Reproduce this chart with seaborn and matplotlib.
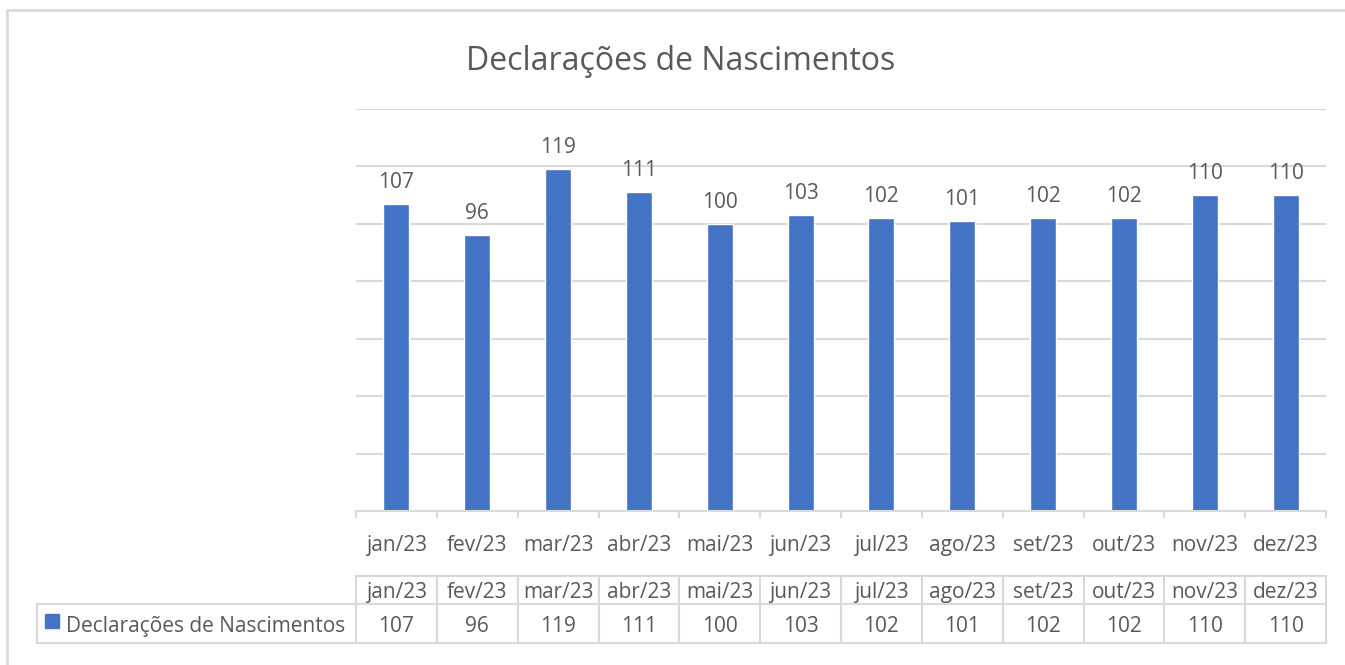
import numpy as np
import pandas as pd
import seaborn as sns
import matplotlib.pyplot as plt
from matplotlib.table import Table
from matplotlib.lines import Line2D
from matplotlib.patches import Rectangle

# Dados do gráfico
meses = ['jan/23', 'fev/23', 'mar/23', 'abr/23', 'mai/23', 'jun/23',
         'jul/23', 'ago/23', 'set/23', 'out/23', 'nov/23', 'dez/23']
declaracoes = [107, 96, 119, 111, 100, 103, 102, 101, 102, 102, 110, 110]
serie = 'Declarações de Nascimentos'

azul = '#4472C4'
cinza_texto = '#595959'
cinza_linha = '#D9D9D9'

sns.set_theme(style='white')
plt.rcParams['font.family'] = ['Open Sans', 'DejaVu Sans']

dados = pd.DataFrame({'mes': meses, 'valor': declaracoes})

W, H = 1345, 665
fig = plt.figure(figsize=(W / 100, H / 100), dpi=100)
ax = fig.add_axes([356 / W, (H - 511) / H, 970 / W, 402 / H])

sns.barplot(data=dados, x='mes', y='valor', color=azul, width=0.32,
            saturation=1, ax=ax)

# Eixo y sem rótulos, só as linhas de grade
ax.set_ylim(0, 140)
ax.set_yticks(range(0, 141, 20))
ax.set_yticklabels([])
ax.tick_params(axis='y', length=0)
ax.yaxis.grid(True, color=cinza_linha, linewidth=1.5)
ax.set_axisbelow(True)
for lado in ['left', 'right', 'top']:
    ax.spines[lado].set_visible(False)
ax.spines['bottom'].set_color(cinza_linha)
ax.spines['bottom'].set_linewidth(1.5)

ax.set_xlim(-0.5, len(meses) - 0.5)
ax.set_xlabel('')
ax.set_ylabel('')
ax.tick_params(axis='x', length=0, pad=17, labelsize=15, labelcolor=cinza_texto)
# marcas entre as categorias
ax.vlines(np.arange(-0.5, len(meses)), 0, -7 / 402, transform=ax.get_xaxis_transform(),
          color=cinza_linha, linewidth=1.5, clip_on=False)

# Rótulos de dados
ax.bar_label(ax.containers[0], padding=8, fontsize=15, color=cinza_texto)

# Tabela de dados abaixo do gráfico
tabela = Table(ax, bbox=[(37 - 356) / 970, (511 - 643) / 402,
                         (1326 - 37) / 970, (643 - 576) / 402])
larg_col = 970 / len(meses)
for j, mes in enumerate(meses):
    tabela.add_cell(0, j + 1, larg_col, 28, text=mes, loc='center')
for j, v in enumerate(declaracoes):
    tabela.add_cell(1, j + 1, larg_col, 39, text=str(v), loc='center')
tabela.add_cell(1, 0, 319, 39, text='', loc='left')
tabela.auto_set_font_size(False)
tabela.set_fontsize(15)
for cel in tabela.get_celld().values():
    cel.set_edgecolor(cinza_linha)
    cel.set_linewidth(1.5)
    cel.get_text().set_color(cinza_texto)
    cel.get_text().set_va('center_baseline')
ax.add_table(tabela)

# Legenda dentro da tabela
ax.text((66 - 356) / 970, (511 - 624) / 402, serie, transform=ax.transAxes,
        ha='left', va='center_baseline', fontsize=15, color=cinza_texto)
fig.add_artist(Rectangle((45 / W, (H - 628) / H), 14 / W, 14 / H,
                         transform=fig.transFigure, color=azul))

# Título
fig.text(681 / W, (H - 58) / H, serie, ha='center', va='center_baseline',
         fontsize=23, color=cinza_texto)

# Borda da área do gráfico
fig.add_artist(Line2D([7 / W, 7 / W], [0, (H - 10) / H], color=cinza_linha, linewidth=2))
fig.add_artist(Line2D([7 / W, 1], [(H - 10) / H, (H - 10) / H], color=cinza_linha, linewidth=2))

fig.savefig('out.png', dpi=100)
